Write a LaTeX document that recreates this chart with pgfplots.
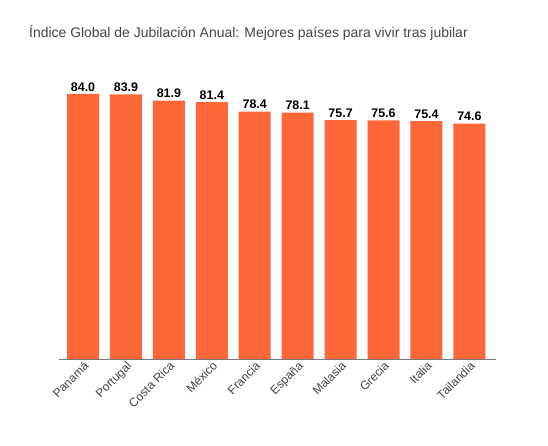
\documentclass[border=0pt]{standalone}
\usepackage{pgfplots}
\pgfplotsset{compat=1.18}
\usepackage{fontspec}
\setmainfont{Liberation Sans}
\definecolor{barc}{RGB}{255,103,56}
\definecolor{txt}{RGB}{68,68,68}
\definecolor{axc}{RGB}{120,120,120}
\begin{document}
\begin{tikzpicture}
\useasboundingbox (0,0) rectangle (548bp,446bp);
\begin{axis}[
  at={(59bp,87bp)}, anchor=south west,
  width=437bp, height=284bp, scale only axis,
  ymin=0, ymax=90, xmin=-0.56, xmax=9.62,
  axis x line*=bottom, axis y line=none,
  axis line style={-, draw=axc, line width=0.8bp},
  xtick=data,
  xticklabels={Panamá,Portugal,Costa Rica,México,Francia,España,Malasia,Grecia,Italia,Tailandia},
  x tick label style={rotate=45, anchor=north east, font=\fontsize{12}{12}\selectfont, text=txt, inner sep=1bp},
  major tick length=0pt,
  ytick=\empty,
  ybar, bar width=32bp,
  /pgf/number format/assume math mode=true,
  nodes near coords={\pgfmathprintnumber[fixed,fixed zerofill,precision=1]{\pgfplotspointmeta}},
  nodes near coords style={font=\bfseries\fontsize{12.5}{12.5}\selectfont, text=black, inner sep=2.5bp},
  clip=false,
]
\addplot[fill=barc, draw=none] coordinates {
(0,84.0) (1,83.9) (2,81.9) (3,81.4) (4,78.4) (5,78.1) (6,75.7) (7,75.6) (8,75.4) (9,74.6)};
\end{axis}
\node[anchor=base west, text=txt, font=\fontsize{14}{15}\selectfont, inner sep=0] at (29bp,408bp) {Índice Global de Jubilación Anual: Mejores países para vivir tras jubilar};
\end{tikzpicture}
\end{document}
